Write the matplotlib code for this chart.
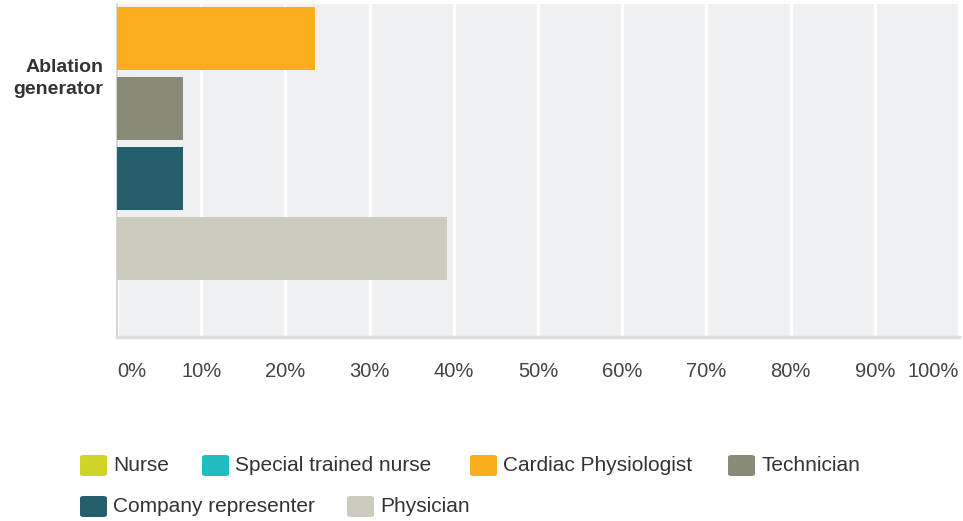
import numpy as np
import matplotlib.pyplot as plt
from matplotlib.patches import FancyBboxPatch

plt.rcParams['font.family'] = ['Liberation Sans', 'DejaVu Sans']

category = "Ablation\ngenerator"
series = ["Nurse", "Special trained nurse", "Cardiac Physiologist",
          "Technician", "Company representer", "Physician"]
values = [0.0, 0.0, 23.5, 7.8, 7.8, 39.2]
colors = ["#D0D42A", "#1FBDBF", "#F9AE1C", "#8A8A79", "#255E6D", "#CDCBBD"]
ticks = np.arange(0, 101, 10)
tick_labels = [f"{t}%" for t in ticks]

fig = plt.figure(figsize=(9.63, 5.21), dpi=100)
ax = fig.add_axes([117 / 963, 1 - 337 / 521, 842 / 963, 333 / 521])
ax.set_facecolor("#EFF0F2")

pos = np.arange(len(series))
ax.barh(pos, values, height=0.9, color=colors, zorder=3)

ax.set_xlim(0, 100)
ax.set_ylim(6.264, 1.507)
ax.set_xticks(ticks)
ax.set_xticklabels(tick_labels, fontsize=14.5, color="#444444")
labs = ax.get_xticklabels()
labs[0].set_ha("left")
labs[-1].set_ha("right")
ax.tick_params(axis="x", length=0, pad=18)
ax.set_yticks([pos.mean()])
ax.set_yticklabels([category], fontsize=14, fontweight="bold", color="#333333",
                   linespacing=1.45)
ax.tick_params(axis="y", length=0, pad=10)
ax.grid(axis="x", color="white", linewidth=2.4, zorder=1)

for s in ["top", "right"]:
    ax.spines[s].set_visible(False)
ax.spines["left"].set_color("#CFCFCF")
ax.spines["left"].set_linewidth(1.2)
ax.spines["bottom"].set_color("#DCDDE0")
ax.spines["bottom"].set_linewidth(2.5)

# legend laid out in a flowing row like the original
legend_x = [80, 202, 470, 728, 80, 347]
legend_y = [455, 455, 455, 455, 496, 496]
for name, col, lx, ly in zip(series, colors, legend_x, legend_y):
    p = FancyBboxPatch((lx / 963, 1 - (ly + 21) / 521), 27 / 963, 21 / 521,
                       boxstyle="round,pad=0,rounding_size=0.004",
                       transform=fig.transFigure, facecolor=col, edgecolor="none")
    fig.add_artist(p)
    fig.text((lx + 33) / 963, 1 - (ly + 10.5) / 521, name, fontsize=15,
             color="#333333", va="center", ha="left")

fig.savefig("out.png", dpi=100)
